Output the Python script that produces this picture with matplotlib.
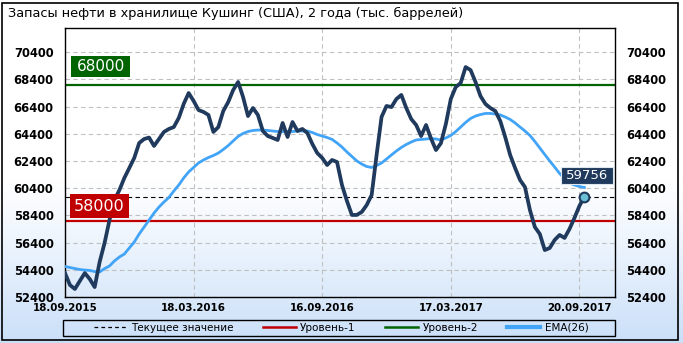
import numpy as np
import matplotlib.pyplot as plt
from matplotlib.patches import Rectangle
from matplotlib.lines import Line2D

# Запасы нефти в Кушинге, тыс. баррелей (недельные данные)
stocks = [
    54160, 53280, 52990, 53580, 54160, 53720, 53130, 54970, 56370, 58060,
    59530, 60260, 61150, 61880, 62620, 63720, 64010, 64120, 63500, 64010,
    64530, 64750, 64890, 65560, 66590, 67390, 66810, 66140, 66000, 65780,
    64530, 64890, 66070, 66730, 67610, 68200, 67100, 65700, 66290, 65780,
    64600, 64230, 64090, 63940, 65190, 64160, 65260, 64600, 64750, 64450,
    63650, 62980, 62620, 62100, 62470, 62320, 60630, 59460, 58430, 58430,
    58650, 59160, 59900, 62840, 65630, 66440, 66360, 66950, 67250, 66290,
    65480, 65040, 64230, 65040, 64050, 63200, 63700, 65110, 66950, 67830,
    68130, 69300, 69080, 68200, 67170, 66590, 66290, 66070, 65340, 64160,
    62840, 61880, 61000, 60480, 58790, 57540, 57030, 55850, 56000, 56590,
    56960, 56740, 57400, 58210, 59090, 59756,
]
ema26 = [
    54640, 54570, 54490, 54420, 54380, 54350, 54270, 54240, 54490, 54680,
    55050, 55340, 55560, 56000, 56440, 57030, 57540, 58060, 58570, 59010,
    59380, 59710, 60190, 60630, 61150, 61590, 61920, 62250, 62470, 62650,
    62800, 62980, 63240, 63530, 63870, 64200, 64420, 64560, 64640, 64670,
    64670, 64640, 64600, 64560, 64560, 64560, 64560, 64600, 64600, 64600,
    64490, 64340, 64230, 64120, 63980, 63720, 63420, 63060, 62730, 62400,
    62170, 61990, 61920, 62060, 62250, 62540, 62840, 63130, 63390, 63610,
    63790, 63940, 63980, 64010, 64050, 64010, 63940, 64090, 64270, 64560,
    64890, 65230, 65520, 65700, 65810, 65890, 65890, 65850, 65780, 65630,
    65450, 65190, 64890, 64600, 64270, 63830, 63350, 62870, 62400, 61950,
    61480, 61110, 60780, 60630, 60520, 60450,
]
level1 = 58000
level2 = 68000
current = 59756

date_labels = ['18.09.2015', '18.03.2016', '16.09.2016', '17.03.2017', '20.09.2017']
date_pos = [0, 26, 52, 78, 104]
y_ticks = list(range(52400, 70401, 2000))

navy = '#1f3a5c'
blue = '#42a4f7'
green = '#006400'
red = '#c00000'

weeks = np.arange(len(stocks))

fig = plt.figure(figsize=(6.83, 3.43), dpi=100)

# фон: градиент от белого к голубому
bg = fig.add_axes([0, 0, 1, 1], zorder=-10)
h = 343
t = np.clip((np.linspace(0, 1, h) - 0.52) / 0.48, 0, 1) ** 1.15
top_c = np.array([1.0, 1.0, 1.0])
bot_c = np.array([0.79, 0.875, 0.975])
grad = top_c[None, :] * (1 - t[:, None]) + bot_c[None, :] * t[:, None]
bg.imshow(grad[:, None, :], aspect='auto', extent=[0, 1, 0, 1])
bg.set_axis_off()
fig.patches.append(Rectangle((2 / 683, 3 / 343), 676 / 683, 337 / 343,
                             transform=fig.transFigure, fill=False,
                             edgecolor='black', linewidth=1.2))

ax = fig.add_axes([65 / 683, 46 / 343, 550 / 683, 269 / 343])
ax.set_facecolor('none')

ax.plot(weeks, ema26, color=blue, linewidth=2.0, zorder=3)
ax.plot(weeks, stocks, color=navy, linewidth=2.7, solid_joinstyle='round', zorder=4)
ax.axhline(level2, color=green, linewidth=1.6, zorder=2)
ax.axhline(level1, color=red, linewidth=1.6, zorder=2)
ax.axhline(current, color='black', linewidth=0.8, linestyle=(0, (4, 3)), zorder=2)
ax.plot(weeks[-1], stocks[-1], 'o', markersize=7, markerfacecolor='#6cc0d6',
        markeredgecolor=navy, markeredgewidth=1.5, zorder=6)

# подписи уровней
ax.add_patch(Rectangle((0.0109, 0.819), 0.1073, 0.078, transform=ax.transAxes,
                       facecolor=green, edgecolor='none', zorder=7))
ax.text(0.0109 + 0.1073 / 2, 0.819 + 0.039, f'{level2}', transform=ax.transAxes,
        ha='center', va='center', color='white', fontsize=11, zorder=8)
ax.add_patch(Rectangle((0.0091, 0.2926), 0.1073, 0.0892, transform=ax.transAxes,
                       facecolor=red, edgecolor='none', zorder=7))
ax.text(0.0091 + 0.1073 / 2, 0.2926 + 0.0446, f'{level1}', transform=ax.transAxes,
        ha='center', va='center', color='white', fontsize=11.5, zorder=8)
ax.add_patch(Rectangle((0.9013, 0.42), 0.0945, 0.062, transform=ax.transAxes,
                       facecolor=navy, edgecolor='#dde8f0', linewidth=0.8, zorder=7))
ax.text(0.9013 + 0.0945 / 2, 0.42 + 0.031, f'{current}', transform=ax.transAxes,
        ha='center', va='center', color='white', fontsize=9.5, zorder=8)

ax.set_xlim(0, 111.2)
ax.set_ylim(52400, 72170)
ax.set_xticks(date_pos)
ax.set_xticklabels(date_labels, fontsize=7.4, fontweight='bold')
ax.set_yticks(y_ticks)
ax.set_yticklabels([str(v) for v in y_ticks], fontsize=8.3, fontweight='bold')
ax.tick_params(axis='y', length=0, pad=8.3, labelright=True)
ax.tick_params(axis='x', length=0, pad=4.5)
ax.grid(True, color='#c0c0c0', linestyle=(0, (4, 3)), linewidth=0.8, zorder=0)
ax.set_axisbelow(True)
for s in ax.spines.values():
    s.set_linewidth(1.0)

fig.text(8 / 683, 1 - 13 / 343, 'Запасы нефти в хранилище Кушинг (США), 2 года (тыс. баррелей)',
         fontsize=9.3, ha='left', va='center')

# легенда
handles = [
    Line2D([], [], color='black', linewidth=0.9, linestyle=(0, (3, 2.5))),
    Line2D([], [], color=red, linewidth=1.8),
    Line2D([], [], color=green, linewidth=1.8),
    Line2D([], [], color=blue, linewidth=3),
]
labels = ['Текущее значение', 'Уровень-1', 'Уровень-2', 'EMA(26)']
fig.legend(handles, labels, loc='center', bbox_to_anchor=(341 / 683, 1 - 328 / 343),
           ncol=4, frameon=False, fontsize=7.5, handlelength=3.2, handletextpad=0.4,
           columnspacing=2.8, borderpad=0)
fig.patches.append(Rectangle((63.3 / 683, 1 - 335.5 / 343), 551.7 / 683, 15.5 / 343,
                             transform=fig.transFigure, fill=False,
                             edgecolor='black', linewidth=1.0))

plt.savefig('out.png', dpi=100)
